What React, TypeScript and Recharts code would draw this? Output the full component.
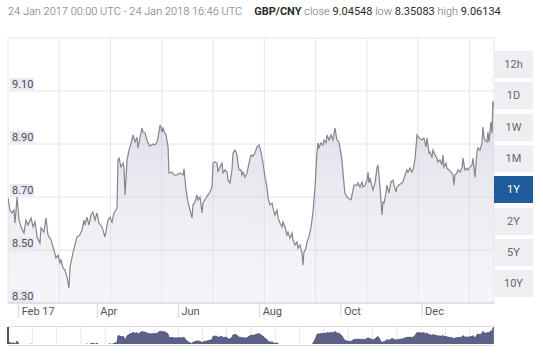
import React from 'react';
import { AreaChart, Area, XAxis, YAxis, CartesianGrid } from 'recharts';

// ---- data (day = days since 24 Jan 2017) ----
const monthTicks = [8, 67, 128, 189, 250, 311];
const monthLabels = ['Feb 17', 'Apr', 'Jun', 'Aug', 'Oct', 'Dec'];
const rateTicks = [8.3, 8.5, 8.7, 8.9, 9.1, 9.3];
const gridDays = [0, 38.5, 77, 115.5, 154, 192.5, 231, 269.5, 308, 346.5];
const navGridDays = [18.25, 36.5, 54.75, 73, 91.25, 109.5, 127.75, 146, 164.25, 182.5, 200.75, 219, 237.25, 255.5, 273.75, 292, 310.25, 328.5, 346.75];
const ranges = ['12h', '1D', '1W', '1M', '1Y', '2Y', '5Y', '10Y'];
const activeRange = '1Y';

const gbpCny: [number, number][] = [
  [0, 8.696], [1.5, 8.651], [3, 8.64], [4.5, 8.651], [5.3, 8.602], [6.8, 8.7], [8.3, 8.613], [9.8, 8.587],
  [12, 8.564], [13.5, 8.613], [15, 8.594], [17.3, 8.621], [18.8, 8.587], [20.3, 8.606], [21.8, 8.549], [24, 8.526],
  [24.8, 8.583], [27, 8.568], [28.5, 8.621], [30, 8.557], [32.3, 8.538], [34.5, 8.5], [36, 8.47], [37.6, 8.481],
  [39, 8.451], [39.8, 8.462], [41.3, 8.432], [42.8, 8.424], [44.3, 8.398], [45.8, 8.357], [46.6, 8.436], [48.8, 8.489],
  [50.3, 8.519], [51.8, 8.549], [54, 8.557], [55.6, 8.575], [57, 8.613], [57.8, 8.594], [59.3, 8.624], [60.8, 8.594],
  [62.3, 8.632], [63.8, 8.643], [65.3, 8.613], [66.8, 8.64], [68.3, 8.602], [70.6, 8.587], [72.8, 8.549], [75.1, 8.613],
  [76.6, 8.624], [78.1, 8.606], [79.6, 8.64], [81.9, 8.658], [82.6, 8.84], [83.4, 8.847], [84.9, 8.813], [86.4, 8.828],
  [87.1, 8.809], [87.9, 8.708], [89.4, 8.84], [90.9, 8.877], [93.1, 8.915], [93.9, 8.934], [95.4, 8.908], [96.9, 8.926],
  [97.6, 8.885], [99.1, 8.923], [100.6, 8.96], [101.4, 8.945], [102.9, 8.941], [104.4, 8.915], [105.1, 8.904], [106.6, 8.892],
  [108.9, 8.9], [110.4, 8.896], [111.9, 8.908], [112.7, 8.926], [114.2, 8.972], [115.7, 8.945], [116.4, 8.96], [117.9, 8.941],
  [118.7, 8.934], [120.2, 8.889], [120.9, 8.791], [123.2, 8.794], [124.7, 8.783], [126.9, 8.783], [129.2, 8.791], [131.4, 8.783],
  [132.2, 8.806], [133.7, 8.726], [135.2, 8.681], [136.7, 8.651], [138.2, 8.621], [138.9, 8.67], [140.4, 8.681], [141.9, 8.708],
  [142.7, 8.689], [144.2, 8.7], [145.7, 8.64], [146.4, 8.677], [148.7, 8.696], [150.2, 8.708], [151.7, 8.719], [153.2, 8.738],
  [154, 8.828], [155.5, 8.832], [157, 8.828], [157.7, 8.794], [159.2, 8.813], [160.7, 8.828], [161.5, 8.791], [163, 8.802],
  [164.5, 8.794], [165.2, 8.764], [166.7, 8.753], [168.2, 8.802], [169, 8.866], [170.5, 8.877], [172, 8.858], [172.7, 8.828],
  [173.5, 8.802], [175, 8.802], [175.7, 8.783], [176.5, 8.794], [178, 8.775], [179.5, 8.791], [181, 8.828], [182.5, 8.858],
  [184, 8.855], [185.5, 8.866], [187, 8.889], [188.5, 8.896], [190, 8.87], [191.5, 8.828], [192.3, 8.802], [193, 8.775],
  [194.5, 8.738], [195.3, 8.696], [196.8, 8.67], [198.3, 8.677], [199, 8.658], [200.5, 8.632], [202, 8.651], [202.8, 8.621],
  [204.3, 8.602], [205.8, 8.587], [206.5, 8.606], [208, 8.587], [209.5, 8.557], [210.3, 8.568], [211.8, 8.545], [213.3, 8.564],
  [214, 8.538], [215.5, 8.519], [217, 8.53], [217.8, 8.507], [219.3, 8.519], [220.8, 8.489], [221.5, 8.443], [222.3, 8.492],
  [223.8, 8.507], [224.5, 8.53], [226, 8.549], [227.6, 8.587], [229, 8.64], [229.8, 8.689], [230.6, 8.738], [231.3, 8.802],
  [232, 8.866], [232.8, 8.904], [233.5, 8.885], [235, 8.904], [236.6, 8.896], [237.3, 8.915], [238.8, 8.904], [239.6, 8.934],
  [241, 8.915], [242.6, 8.934], [244, 8.915], [245.6, 8.96], [247, 8.915], [248.6, 8.908], [250.8, 8.84], [251.6, 8.791],
  [253, 8.715], [254.6, 8.7], [255.3, 8.696], [257.6, 8.689], [259.1, 8.726], [259.9, 8.745], [262.1, 8.745], [262.9, 8.753],
  [264.4, 8.738], [265.9, 8.757], [266.6, 8.738], [268.1, 8.745], [269.6, 8.764], [270.4, 8.794], [271.1, 8.753], [271.9, 8.772],
  [273.4, 8.738], [274.1, 8.726], [275.6, 8.753], [277.1, 8.809], [277.9, 8.821], [279.4, 8.738], [280.9, 8.632], [281.6, 8.681],
  [282.4, 8.677], [283.9, 8.715], [284.6, 8.745], [286.1, 8.715], [287.6, 8.757], [289.1, 8.764], [289.9, 8.745], [291.4, 8.719],
  [292.1, 8.738], [293.6, 8.745], [295.9, 8.753], [296.6, 8.757], [298.2, 8.783], [299.6, 8.802], [300.4, 8.794], [301.9, 8.809],
  [303.4, 8.794], [304.2, 8.802], [305.6, 8.84], [307.2, 8.934], [308.7, 8.923], [310.9, 8.915], [312.4, 8.923], [313.9, 8.889],
  [314.7, 8.923], [316.2, 8.866], [316.9, 8.87], [318.4, 8.851], [319.2, 8.877], [320.7, 8.858], [322.2, 8.847], [322.9, 8.832],
  [324.4, 8.84], [325.9, 8.821], [326.7, 8.858], [327.4, 8.813], [328.9, 8.828], [329.7, 8.809], [331.2, 8.802], [332.7, 8.794],
  [334.2, 8.783], [334.9, 8.745], [335.7, 8.783], [337.2, 8.791], [337.9, 8.802], [339.5, 8.794], [341, 8.809], [341.7, 8.847],
  [343.2, 8.802], [344.7, 8.809], [345.5, 8.802], [347, 8.813], [348.5, 8.821], [349.2, 8.847], [350.7, 8.775], [352.2, 8.87],
  [353, 8.885], [354.5, 8.877], [356, 8.904], [356.7, 8.964], [357.5, 8.926], [358.2, 8.915], [359.7, 8.908], [360.5, 8.945],
  [361.2, 8.908], [362.7, 8.983], [363.5, 8.941], [364.2, 9.061], [365, 9.045],
];

const chartData = gbpCny.map(([day, rate]) => ({ day, rate }));

const FONT = 'Roboto, "Open Sans", sans-serif';

const renderMonthTick = (props: any) => {
  const { x, y, payload } = props;
  const label = monthLabels[monthTicks.indexOf(payload.value)];
  return (
    <g>
      <line x1={x} y1={y} x2={x} y2={y + 15} stroke="#d6d6dc" />
      <text x={x + 3} y={y + 12} fill="#555" fontSize={11} fontFamily={FONT}>
        {label}
      </text>
    </g>
  );
};

const renderRateTick = (props: any) => {
  const { x, y, payload } = props;
  if (payload.value > 9.2) return <g />;
  return (
    <g>
      <rect x={x - 1} y={y - 13} width={24} height={12} fill="#e9e9f1" />
      <text x={x + 1} y={y - 3} fill="#4a4a5c" fontSize={11} fontFamily={FONT}>
        {payload.value.toFixed(2)}
      </text>
    </g>
  );
};

const App: React.FC = () => {
  return (
    <div style={{ position: 'absolute', left: 0, top: 0, width: 543, height: 353, background: '#fff', fontFamily: FONT }}>
      {/* header line */}
      <div style={{ position: 'absolute', left: 8, top: 5, fontSize: 11, whiteSpace: 'nowrap', color: '#707070', fontWeight: 300 }}>
        <span>24 Jan 2017 00:00 UTC - 24 Jan 2018 16:46 UTC</span>
        <span style={{ marginLeft: 12, color: '#2b2b2b', fontWeight: 700 }}>GBP/CNY</span>
        <span> close </span>
        <b style={{ color: '#2b2b2b' }}>9.04548</b>
        <span> low </span>
        <b style={{ color: '#2b2b2b' }}>8.35083</b>
        <span> high </span>
        <b style={{ color: '#2b2b2b' }}>9.06134</b>
      </div>

      {/* main area chart: default x axis (hidden) only feeds the vertical grid */}
      <div style={{ position: 'absolute', left: 0, top: 0 }}>
        <AreaChart width={543} height={353} data={chartData} margin={{ top: 38, right: 49, bottom: 20, left: 8 }}>
          <defs>
            <linearGradient id="rateFill" x1="0" y1="0" x2="0" y2="1">
              <stop offset="0%" stopColor="#b9bacf" stopOpacity={0.8} />
              <stop offset="100%" stopColor="#e4e4ef" stopOpacity={0.55} />
            </linearGradient>
          </defs>
          <CartesianGrid stroke="#e4e4e9" />
          <XAxis dataKey="day" type="number" domain={[0, 365]} ticks={gridDays} interval={0} height={0} hide allowDataOverflow />
          <XAxis
            xAxisId="months"
            dataKey="day"
            type="number"
            domain={[0, 365]}
            ticks={monthTicks}
            interval={0}
            height={30}
            tickSize={0}
            tickMargin={0}
            tickLine={false}
            axisLine={{ stroke: '#cfcfd6' }}
            tick={renderMonthTick}
            allowDataOverflow
          />
          <YAxis
            mirror
            domain={[8.3, 9.3]}
            ticks={rateTicks}
            interval={0}
            axisLine={false}
            tickLine={false}
            tickSize={0}
            tickMargin={3}
            tick={renderRateTick}
          />
          <Area
            xAxisId="months"
            type="linear"
            dataKey="rate"
            stroke="#85858d"
            strokeWidth={1.2}
            fill="url(#rateFill)"
            dot={false}
            activeDot={false}
            isAnimationActive={false}
          />
        </AreaChart>
      </div>

      {/* range selector */}
      {ranges.map((r, i) => (
        <div
          key={r}
          style={{
            position: 'absolute',
            left: 494,
            top: 51 + i * 31.3,
            width: 39,
            height: 27,
            lineHeight: '27px',
            textAlign: 'center',
            fontSize: 11,
            color: r === activeRange ? '#fff' : '#666',
            background: r === activeRange ? '#1f5c99' : '#efeff3',
          }}
        >
          {r}
        </div>
      ))}

      {/* navigator */}
      <div style={{ position: 'absolute', left: 8, top: 326, width: 486, height: 18, borderTop: '1px solid #dcdce2', borderBottom: '1px solid #dcdce2' }} />
      <div style={{ position: 'absolute', left: 0, top: 327 }}>
        <AreaChart width={543} height={17} data={chartData} margin={{ top: 0, right: 49, bottom: 0, left: 8 }}>
          <CartesianGrid horizontal={false} stroke="#e8e8ec" />
          <XAxis dataKey="day" type="number" domain={[0, 365]} ticks={navGridDays} interval={0} height={0} hide allowDataOverflow />
          <XAxis xAxisId="series" dataKey="day" type="number" domain={[0, 365]} height={0} hide allowDataOverflow />
          <YAxis domain={[8.62, 9.08]} width={0} hide allowDataOverflow />
          <Area
            xAxisId="series"
            type="linear"
            dataKey="rate"
            stroke="#454a74"
            strokeWidth={0.8}
            fill="#5d6188"
            fillOpacity={1}
            dot={false}
            activeDot={false}
            isAnimationActive={false}
          />
        </AreaChart>
      </div>
      <div style={{ position: 'absolute', left: 7, top: 327, width: 2, height: 17, background: '#555' }} />
      <div style={{ position: 'absolute', left: 493, top: 327, width: 1, height: 17, background: '#777' }} />
    </div>
  );
};

export default App;
